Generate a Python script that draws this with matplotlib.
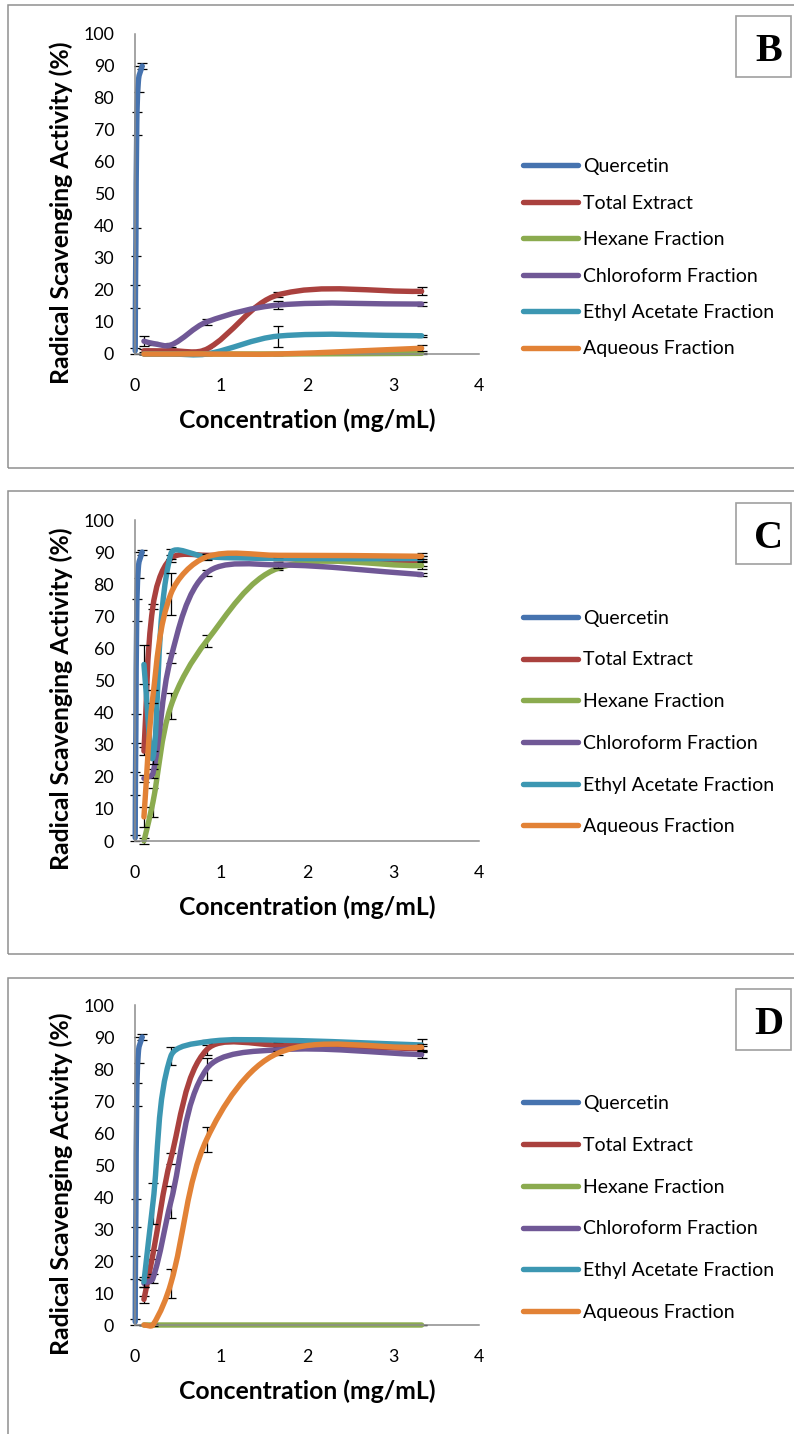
import numpy as np
import matplotlib
matplotlib.use("Agg")
import matplotlib.pyplot as plt
from matplotlib.path import Path
from matplotlib.patches import PathPatch, Rectangle
from matplotlib.lines import Line2D

plt.rcParams['font.family'] = ['Lato', 'DejaVu Sans']

# ---------------- data ----------------
series_names = ["Quercetin", "Total Extract", "Hexane Fraction",
                "Chloroform Fraction", "Ethyl Acetate Fraction", "Aqueous Fraction"]
series_colors = ["#4673AF", "#AA413E", "#8BAB4F", "#705896", "#3C97B2", "#E28236"]

x_quercetin = [0.0026, 0.0052, 0.0104, 0.0208, 0.0417, 0.0833]
x_extract = [0.104, 0.208, 0.417, 0.833, 1.667, 3.333]

quercetin_y = [1, 18, 35, 72, 86, 90]
quercetin_err = [1, 3.6, 4.5, 3.5, 4, 0.8]

# Panel B
b_total = [1, 1, 1, 1.5, 18.5, 19.6]
b_total_err = [0.5, 0.4, 0.3, 0.5, 0.8, 1.2]
b_hexane = [0, 0, 0, 0, 0, 0.2]
b_hexane_err = [0, 0, 0, 0, 0, 0.2]
b_chloro = [4, 3.3, 2.8, 10, 15.3, 15.6]
b_chloro_err = [1.6, 0.5, 0.5, 1.0, 1.2, 0.7]
b_ethyl = [0, 0, 0, 0, 5.6, 5.7]
b_ethyl_err = [0, 0, 0, 0.3, 3.3, 0.3]
b_aqueous = [0, 0, 0, 0, 0, 1.8]
b_aqueous_err = [0, 0, 0, 0, 0.3, 1.0]

# Panel C
c_total = [28, 73, 88, 89, 88, 87.3]
c_total_err = [1.2, 0.8, 1.2, 0.5, 0.6, 1.5]
c_hexane = [0, 12, 42, 62.3, 85, 85.8]
c_hexane_err = [1, 4.5, 4, 1.8, 0.5, 1]
c_chloro = [19.5, 21, 57, 83.5, 86, 83]
c_chloro_err = [1, 1.5, 1.5, 1, 1, 0.5]
c_ethyl = [55, 26, 89.5, 88.5, 88, 88]
c_ethyl_err = [6, 2, 1.5, 0.8, 0.5, 0.8]
c_aqueous = [7.5, 45, 77, 88.5, 89, 88.7]
c_aqueous_err = [3, 2, 6.5, 1, 0.5, 1]

# Panel D
d_total = [8, 22, 52, 86, 87.5, 86.3]
d_total_err = [1, 1.5, 1.6, 1.5, 0.5, 1]
d_hexane = [0, 0, 0, 0, 0, 0]
d_hexane_err = [0, 0, 0, 0, 0, 0]
d_chloro = [13, 14.5, 38.5, 80, 86, 84.5]
d_chloro_err = [1, 1.5, 5, 3.4, 0.5, 1]
d_ethyl = [13.5, 38, 84, 88.5, 89, 87.5]
d_ethyl_err = [1.5, 6.5, 2.8, 0.5, 0.5, 2]
d_aqueous = [0, 0, 13, 58, 85, 86.8]
d_aqueous_err = [0, 0.3, 4.5, 4, 0.6, 1]

panel_letters = ["B", "C", "D"]
x_ticks = [0, 1, 2, 3, 4]
y_ticks = [0, 10, 20, 30, 40, 50, 60, 70, 80, 90, 100]

panels = [
    [b_total, b_hexane, b_chloro, b_ethyl, b_aqueous],
    [c_total, c_hexane, c_chloro, c_ethyl, c_aqueous],
    [d_total, d_hexane, d_chloro, d_ethyl, d_aqueous],
]
panel_errs = [
    [b_total_err, b_hexane_err, b_chloro_err, b_ethyl_err, b_aqueous_err],
    [c_total_err, c_hexane_err, c_chloro_err, c_ethyl_err, c_aqueous_err],
    [d_total_err, d_hexane_err, d_chloro_err, d_ethyl_err, d_aqueous_err],
]

# ---------------- layout ----------------
W, H = 794, 1434
fig = plt.figure(figsize=(W / 100, H / 100), dpi=100)


def fx(px):
    return px / W


def fy(py):
    return 1 - py / H


def smooth_path(xs, ys, sx, sy):
    """Excel-like smoothed line: cubic Bezier segments, handle lengths
    weighted by the on-screen lengths of neighbouring segments."""
    P = np.column_stack([xs, ys]).astype(float)
    Q = P * np.array([sx, sy])
    n = len(P)
    verts = [P[0]]
    codes = [Path.MOVETO]
    for i in range(n - 1):
        a = i - 1 if i > 0 else i
        b = i + 2 if i + 2 < n else i + 1
        d01 = np.hypot(*(Q[i] - Q[a]))
        d12 = np.hypot(*(Q[i + 1] - Q[i]))
        d23 = np.hypot(*(Q[b] - Q[i + 1]))
        f1 = d12 / (d01 + d12) / 3.0 if d01 + d12 > 0 else 0
        f2 = d12 / (d12 + d23) / 3.0 if d12 + d23 > 0 else 0
        c1 = P[i] + (P[i + 1] - P[a]) * f1
        c2 = P[i + 1] - (P[b] - P[i]) * f2
        verts += [c1, c2, P[i + 1]]
        codes += [Path.CURVE4] * 3
    return Path(verts, codes)


panel_tops = [5, 491, 978]
panel_bottoms = [468, 954, 1450]
axes_y0 = [354, 841, 1325]
axes_y100 = [34, 520, 1005]
legend_mid = [257.8, 722.5, 1208]
legend_spacing = [1.0, 1.27, 1.27]
label_box_top = [16, 503, 989]

grey = "#8c8c8c"
lw_series = 3.9
label_fs = 17.8

for k in range(3):
    # outer panel frame
    fig.add_artist(Rectangle((fx(8), fy(panel_bottoms[k])), fx(800 - 8),
                             (panel_bottoms[k] - panel_tops[k]) / H,
                             transform=fig.transFigure, fill=False,
                             edgecolor="#909090", linewidth=1.1))
    y0, y1 = axes_y0[k], axes_y100[k]
    ax = fig.add_axes([fx(135), fy(y0), fx(479 - 135), (y0 - y1) / H])
    ax.set_xlim(0, 4)
    ax.set_ylim(0, 100)
    for s in ["top", "right"]:
        ax.spines[s].set_visible(False)
    for s in ["left", "bottom"]:
        ax.spines[s].set_color(grey)
        ax.spines[s].set_linewidth(1.1)
    ax.set_xticks(x_ticks)
    ax.set_yticks(y_ticks)
    ax.tick_params(axis="both", length=0, labelsize=12.8, colors="black")
    ax.tick_params(axis="y", pad=15)
    ax.tick_params(axis="x", pad=17)
    ax.patch.set_alpha(0)

    sx = 344 / 4.0
    sy = (y0 - y1) / 100.0

    # series (each series' error bars sit just under its own line)
    all_x = [x_quercetin] + [x_extract] * 5
    all_y = [quercetin_y] + panels[k]
    all_e = [quercetin_err] + panel_errs[k]
    for i, (xs, ys, es, col) in enumerate(zip(all_x, all_y, all_e, series_colors)):
        z = 2 + i * 0.1
        ax.errorbar(xs, ys, yerr=es, fmt="none", ecolor="black", elinewidth=0.9,
                    capsize=3.6, capthick=0.9, zorder=z, clip_on=False)
        patch = PathPatch(smooth_path(xs, ys, sx, sy), facecolor="none", edgecolor=col,
                          linewidth=lw_series, capstyle="round", joinstyle="round",
                          zorder=z + 0.05, clip_on=False)
        ax.add_patch(patch)

    ax.set_ylabel("Radical Scavenging Activity (%)", fontsize=label_fs, fontweight="bold")
    ax.yaxis.set_label_coords((61 - 135) / 344, (y0 - (y1 + 179)) / (y0 - y1))
    ax.yaxis.label.set_verticalalignment("center")
    ax.set_xlabel("Concentration (mg/mL)", fontsize=label_fs, fontweight="bold")
    ax.xaxis.set_label_coords(0.5, -66.7 / (y0 - y1))
    ax.xaxis.label.set_verticalalignment("center")

    handles = [Line2D([0], [0], color=c, lw=lw_series, solid_capstyle="round")
               for c in series_colors]
    fig.legend(handles, series_names, loc="center left",
               bbox_to_anchor=(fx(523), fy(legend_mid[k])),
               bbox_transform=fig.transFigure, frameon=False, fontsize=14,
               handlelength=2.85, handletextpad=0.22, labelspacing=legend_spacing[k],
               borderpad=0, borderaxespad=0)

    # panel letter box
    bt = label_box_top[k]
    fig.add_artist(Rectangle((fx(736), fy(bt + 61)), fx(55), 61 / H,
                             transform=fig.transFigure, fill=False,
                             edgecolor="#a0a0a0", linewidth=1.2))
    fig.text(fx(769), fy(bt + 35.5), panel_letters[k], fontsize=29,
             fontweight="bold", family="Liberation Serif",
             ha="center", va="center")

fig.savefig("out.png", dpi=100)
